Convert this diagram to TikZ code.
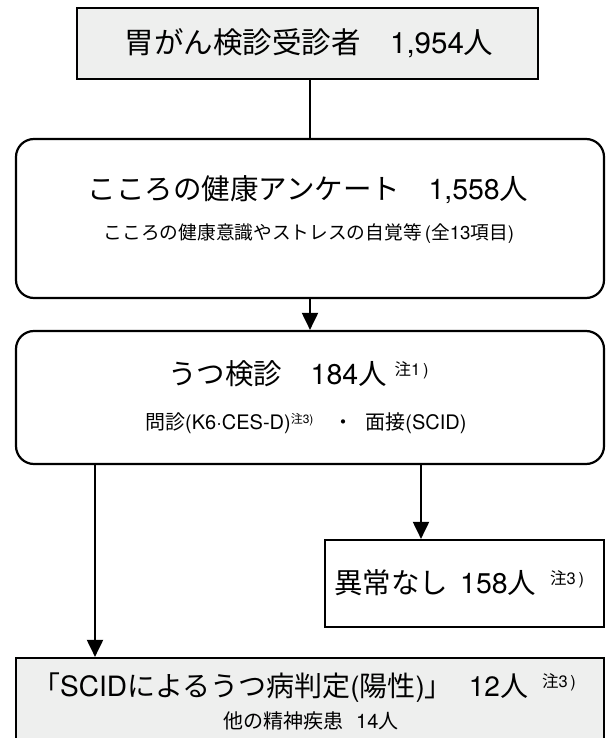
\documentclass[tikz,border=0pt]{standalone}
\usepackage{fontspec}
\setmainfont{Noto Sans CJK JP}
\newfontfamily\lat{TeX Gyre Heros}
\usetikzlibrary{arrows.meta}
\definecolor{boxgray}{HTML}{EEEFEE}
\newcommand{\nsup}[2][9pt]{\raisebox{#1}{\fontsize{16.5}{16.5}\selectfont 注{\lat #2}}}
\begin{document}
\begin{tikzpicture}[x=1pt,y=-1pt,
  box/.style={draw=black, line width=2.2pt, inner sep=0pt},
  conn/.style={line width=2pt},
  arr/.style={conn,-{Triangle[width=16pt,length=17pt]}},
  big/.style={font=\fontsize{29.5}{29.5}\selectfont, inner sep=0pt},
  mid/.style={font=\fontsize{28.5}{28.5}\selectfont, inner sep=0pt},
  small/.style={font=\fontsize{18.7}{18.7}\selectfont, inner sep=0pt}]
\useasboundingbox (0,0) rectangle (605,738);
% boxes
\node[box, fill=boxgray, minimum width=461pt, minimum height=71pt] (top) at (307.5,43.5) {};
\node[box, rounded corners=18pt, minimum width=588pt, minimum height=159pt] (ank) at (310,218.5) {};
\node[box, rounded corners=18pt, minimum width=588pt, minimum height=133pt] (utsu) at (310,397.5) {};
\node[box, minimum width=279pt, minimum height=87pt] (normal) at (464.5,583.5) {};
\begin{scope}
\clip (0,0) rectangle (605,738);
\node[box, fill=boxgray, minimum width=588pt, minimum height=110pt] (res) at (310,713) {};
\end{scope}
% texts
\node[big] (topt) at (309,43) {胃がん検診受診者　{\lat 1,954}人};
\node[mid] (ankt) at (308,190) {こころの健康アンケート　{\lat 1,558}人};
\node[small] (anks) at (309,234) {こころの健康意識やストレスの自覚等{\lat\,(}全{\lat 13}項目{\lat )}};
\node[mid, anchor=west] (utsut) at (168,374) {うつ検診　{\lat 184}人\hspace{8pt}\nsup{1\,)}};
\node[font=\fontsize{20}{20}\selectfont, inner sep=0pt, anchor=west] (utsus) at (145,423) {問診{\lat (K6·CES-D)}\raisebox{6pt}{\fontsize{12}{12}\selectfont 注{\lat 3)}}\hspace{20pt}・\hspace{12pt}面接{\lat (SCID)}};
\node[mid, anchor=west] (normt) at (334,583) {異常なし\hspace{12pt}{\lat 158}人\hspace{14pt}\nsup{3\,)}};
\node[font=\fontsize{28}{28}\selectfont, inner sep=0pt, anchor=west] (rest) at (32,688) {「{\lat SCID}によるうつ病判定{\lat (}陽性{\lat )}」\hspace{16pt}{\lat 12}人\hspace{14pt}\nsup{3\,)}};
\node[font=\fontsize{20}{20}\selectfont, inner sep=0pt, anchor=west] (ress) at (223,721) {他の精神疾患\hspace{13pt}{\lat 14}人};
% connectors
\coordinate (cs) at (310,0);
\coordinate (ls) at (95,0);
\coordinate (rs) at (421,0);
\draw[conn] (top.south -| cs) -- (ank.north);
\draw[arr] (ank.south) -- (utsu.north);
\draw[arr] (utsu.south -| ls) -- (res.north -| ls);
\draw[arr] (utsu.south -| rs) -- (normal.north -| rs);
\end{tikzpicture}
\end{document}
